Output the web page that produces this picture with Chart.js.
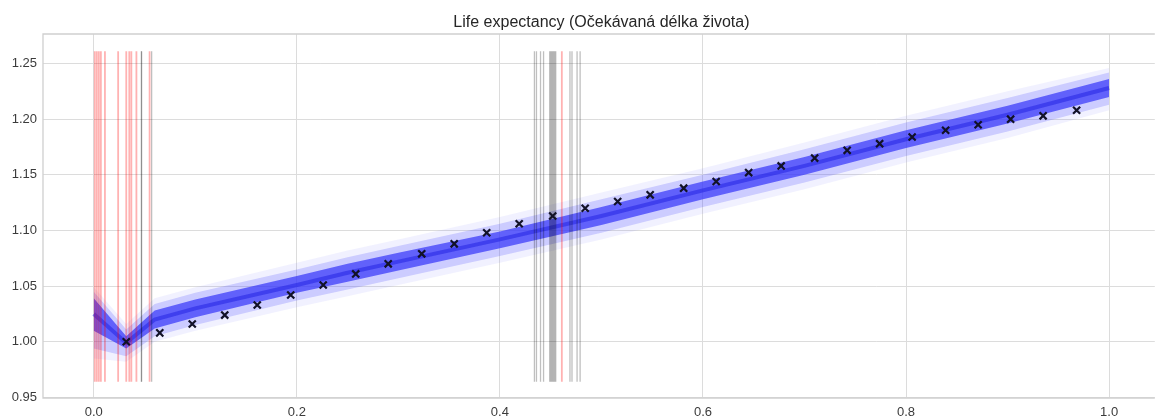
<!DOCTYPE html>
<html>
<head>
<meta charset="utf-8">
<title>Life expectancy</title>
<script src="https://cdn.jsdelivr.net/npm/chart.js@4/dist/chart.umd.min.js"></script>
<style>
  html, body { margin: 0; padding: 0; background: #fff; }
  #wrap { width: 1162px; height: 417px; }
</style>
</head>
<body>
<div id="wrap"><canvas id="lifeChart" width="1162" height="417"></canvas></div>
<script>
const chartTitle = 'Life expectancy (Očekávaná délka života)';

const xTicks = [0.0, 0.2, 0.4, 0.6, 0.8, 1.0];
const yTicks = [0.95, 1.00, 1.05, 1.10, 1.15, 1.20, 1.25];

// observed points (black crosses)
const obsX = [0.032, 0.065, 0.097, 0.129, 0.161, 0.194, 0.226, 0.258, 0.290, 0.323,
              0.355, 0.387, 0.419, 0.452, 0.484, 0.516, 0.548, 0.581, 0.613, 0.645,
              0.677, 0.710, 0.742, 0.774, 0.806, 0.839, 0.871, 0.903, 0.935, 0.968];
const obsY = [1.000, 1.008, 1.016, 1.024, 1.033, 1.042, 1.051, 1.061, 1.070, 1.079,
              1.088, 1.098, 1.106, 1.113, 1.120, 1.126, 1.132, 1.138, 1.144, 1.152,
              1.158, 1.165, 1.172, 1.178, 1.184, 1.190, 1.195, 1.200, 1.203, 1.208];

// sampled curves, summarised as a dense core, a fringe and an outer haze
const bandX    = [0, 0.032, 0.06, 0.1, 0.2, 0.25, 0.3, 0.4, 0.5, 0.6, 0.7, 0.8, 0.9, 1.0];
const bandMid  = [1.025, 0.999, 1.020, 1.030, 1.051, 1.062, 1.072, 1.092, 1.113, 1.136, 1.158, 1.182, 1.204, 1.228];
const coreHi   = [1.039, 1.005, 1.028, 1.038, 1.059, 1.070, 1.080, 1.099, 1.121, 1.144, 1.166, 1.190, 1.212, 1.236];
const coreLo   = [1.010, 0.994, 1.012, 1.022, 1.044, 1.054, 1.064, 1.084, 1.105, 1.128, 1.150, 1.174, 1.196, 1.220];
const outerHi  = [1.045, 1.011, 1.034, 1.044, 1.065, 1.076, 1.086, 1.106, 1.128, 1.150, 1.173, 1.197, 1.219, 1.242];
const outerLo  = [0.994, 0.987, 1.005, 1.015, 1.037, 1.047, 1.057, 1.077, 1.098, 1.121, 1.143, 1.167, 1.189, 1.213];
const hazeHi   = [1.049, 1.016, 1.039, 1.049, 1.071, 1.082, 1.092, 1.112, 1.134, 1.156, 1.179, 1.203, 1.225, 1.246];
const hazeLo   = [0.985, 0.982, 1.000, 1.010, 1.031, 1.041, 1.051, 1.071, 1.092, 1.115, 1.137, 1.161, 1.183, 1.208];

// change-point markers
const vlineLow = 0.964;
const vlineHigh = 1.261;
const redLines = [0.001, 0.003, 0.005, 0.007, 0.011, 0.024, 0.032, 0.035, 0.037, 0.042, 0.055, 0.461];
const blackLines = [0.047, 0.047, 0.057,
                    0.434, 0.436, 0.440, 0.443, 0.449, 0.450, 0.451, 0.452, 0.453, 0.454, 0.455,
                    0.469, 0.471, 0.476, 0.479];

const pts = (xs, ys) => xs.map((x, i) => ({ x: x, y: ys[i] }));

const datasets = [];

datasets.push({
  label: 'observed',
  data: pts(obsX, obsY),
  showLine: false,
  pointStyle: 'crossRot',
  pointRadius: 5,
  pointBorderWidth: 2.2,
  borderColor: '#121228',
  backgroundColor: '#121228',
  order: 0
});

function vline(x, color, width) {
  datasets.push({
    data: [{ x: x, y: vlineLow }, { x: x, y: vlineHigh }],
    showLine: true,
    borderColor: color,
    borderWidth: width,
    pointRadius: 0,
    order: 1
  });
}
redLines.forEach(x => vline(x, 'rgba(255, 0, 0, 0.3)', 1.8));
blackLines.forEach(x => vline(x, 'rgba(0, 0, 0, 0.25)', 1.3));

datasets.push({
  label: 'mean',
  data: pts(bandX, bandMid),
  showLine: true,
  borderColor: 'rgba(30, 30, 225, 0.5)',
  borderWidth: 4,
  pointRadius: 0,
  order: 2
});

// filled band between two bounds, lower one stays invisible
function band(lo, hi, color, order) {
  const loIdx = datasets.length;
  datasets.push({
    data: pts(bandX, lo),
    showLine: true,
    borderWidth: 0,
    borderColor: 'rgba(0,0,0,0)',
    pointRadius: 0,
    order: order
  });
  datasets.push({
    data: pts(bandX, hi),
    showLine: true,
    borderWidth: 0,
    borderColor: 'rgba(0,0,0,0)',
    backgroundColor: color,
    fill: loIdx,
    pointRadius: 0,
    order: order
  });
}
band(coreLo, coreHi, 'rgba(55, 55, 250, 0.72)', 3);
band(outerLo, outerHi, 'rgba(90, 90, 255, 0.25)', 4);
band(hazeLo, hazeHi, 'rgba(120, 120, 255, 0.1)', 5);

// light frame around the plot area plus the title centred over it
const frameAndTitle = {
  id: 'frameAndTitle',
  beforeDatasetsDraw(chart) {
    const { ctx, chartArea: a } = chart;
    ctx.save();
    ctx.strokeStyle = '#cfcfcf';
    ctx.lineWidth = 1.3;
    ctx.beginPath();
    ctx.moveTo(a.right, a.top);
    ctx.lineTo(a.left, a.top);
    ctx.lineTo(a.left, a.bottom);
    ctx.lineTo(a.right, a.bottom);
    ctx.stroke();
    ctx.restore();
  },
  afterDraw(chart) {
    const ctx = chart.ctx;
    const cx = chart.scales.x.getPixelForValue(0.5);
    ctx.save();
    ctx.font = '16px "Liberation Sans", Arial, sans-serif';
    ctx.fillStyle = '#262626';
    ctx.textAlign = 'center';
    ctx.textBaseline = 'alphabetic';
    ctx.fillText(chartTitle, cx, 27);
    ctx.restore();
  }
};

new Chart(document.getElementById('lifeChart'), {
  type: 'scatter',
  data: { datasets: datasets },
  plugins: [frameAndTitle],
  options: {
    responsive: false,
    animation: false,
    events: [],
    layout: { padding: { top: 34, left: 0, right: 0, bottom: 0 } },
    elements: { line: { tension: 0 } },
    plugins: {
      legend: { display: false },
      tooltip: { enabled: false },
      title: { display: false }
    },
    scales: {
      x: {
        type: 'linear',
        min: -0.05,
        max: 1.045,
        afterBuildTicks: s => { s.ticks = xTicks.map(v => ({ value: v })); },
        afterFit: s => { s.height = 19; },
        border: { display: false },
        grid: { color: '#dcdcdc', lineWidth: 1, drawTicks: false },
        ticks: {
          padding: 7,
          color: '#3b3b3b',
          font: { family: '"Liberation Sans", Arial, sans-serif', size: 13 },
          callback: v => v.toFixed(1)
        }
      },
      y: {
        type: 'linear',
        min: 0.9495,
        max: 1.2765,
        afterBuildTicks: s => { s.ticks = yTicks.map(v => ({ value: v })); },
        afterFit: s => { s.width = 43; },
        border: { display: false },
        grid: { color: '#dcdcdc', lineWidth: 1, drawTicks: false },
        ticks: {
          padding: 6,
          color: '#3b3b3b',
          font: { family: '"Liberation Sans", Arial, sans-serif', size: 13 },
          callback: v => v.toFixed(2)
        }
      }
    }
  }
});
</script>
</body>
</html>
